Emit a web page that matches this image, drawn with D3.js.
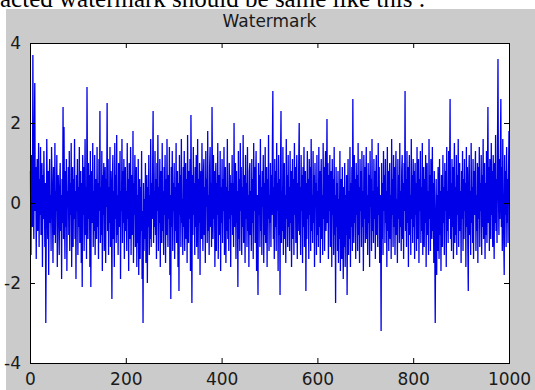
<!DOCTYPE html>
<html>
<head>
<meta charset="utf-8">
<script src="https://cdn.jsdelivr.net/npm/d3@7"></script>
<style>
  body { margin: 0; background: #fff; }
</style>
</head>
<body>
<svg id="chart" width="535" height="390"></svg>
<script>
const caption = 'acted watermark should be same like this :';
const title = 'Watermark';
const xTicks = [0, 200, 400, 600, 800, 1000];
const yTicks = [-4, -2, 0, 2, 4];
// one value per sample, x = 1..1000
const watermark = [
  0.8,-1.3,1.2,0.3,-0.6,3.7,0.5,-0.9,1.6,3.0,-0.2,0.9,-1.4,0.4,1.1,-0.7,0.2,1.5,-1.1,0.6,
  -0.3,1.4,-0.8,0.1,1.0,-1.6,0.7,-0.4,1.3,0.2,-1.1,0.5,-3.0,-0.6,1.6,0.3,-0.9,0.8,-1.8,0.4,
  1.1,-0.5,0.2,-1.2,1.4,0.6,-0.3,-1.5,0.9,0.1,-0.8,1.5,-1.0,0.3,-0.2,1.2,-1.6,0.5,0.7,-0.4,
  -1.3,0.4,1.0,-0.7,0.2,-1.9,0.6,-0.5,2.4,-0.9,1.9,-0.2,-1.4,0.8,-0.6,1.1,-1.7,0.3,-0.1,0.9,
  -0.8,1.3,-1.2,0.5,-0.3,1.5,-1.6,0.2,0.9,-1.1,0.6,-0.4,1.6,-0.9,0.3,-1.9,0.7,-0.2,1.1,-1.3,
  0.4,-0.6,1.4,-1.0,0.1,0.8,-1.5,0.5,-2.1,1.2,-0.3,0.9,-1.2,0.2,1.6,-0.8,0.4,-1.4,2.9,0.6,
  -0.9,1.0,-0.4,0.7,-1.6,1.3,-2.1,0.2,0.8,-0.5,1.5,-1.1,0.3,-0.7,1.2,-1.3,0.6,0.0,-0.9,1.4,
  -0.6,0.5,-1.4,1.1,-0.2,2.3,-1.0,0.4,-0.8,1.3,-1.7,0.7,-0.3,1.0,-1.2,0.2,0.9,-1.5,0.6,-0.1,
  2.5,-0.7,1.1,-1.3,0.4,-0.5,1.4,-1.1,0.8,-0.2,-2.4,0.6,1.2,-0.9,0.3,-1.6,1.5,-0.4,0.7,-1.0,
  1.7,-0.8,0.2,-1.3,1.0,0.5,-0.6,1.3,-1.9,0.3,-0.2,1.6,-1.0,0.8,-0.5,1.1,-1.4,0.4,0.9,-0.7,
  0.3,-1.2,1.5,-0.4,0.6,-1.7,1.0,-0.1,-0.9,1.4,-1.3,0.7,0.2,-0.8,1.8,-1.5,0.5,-0.3,1.2,-1.1,
  -0.4,0.9,-1.6,0.2,-1.0,1.1,-1.8,-0.3,0.6,-1.4,0.4,-0.7,1.3,-1.9,-0.2,-3.0,0.5,-1.2,0.1,-0.9,
  1.0,-1.5,-0.3,0.7,-2.0,0.4,-0.6,1.2,-1.3,0.2,-0.9,1.6,-1.1,0.5,-0.4,0.8,2.3,-1.0,0.3,-0.6,
  1.3,-0.8,0.6,-1.4,1.0,-0.2,1.7,-1.2,0.4,-0.5,1.1,-1.6,0.8,0.1,-1.0,1.5,-0.7,0.3,-1.3,0.9,
  -0.3,1.2,-1.5,0.6,-0.8,1.6,-0.1,-1.1,0.7,-0.4,1.4,-1.8,0.2,-2.4,0.9,-0.6,1.3,-1.2,0.5,-0.2,
  1.0,-1.4,0.4,-0.7,1.5,-1.0,0.2,0.8,-1.6,0.5,-2.2,1.2,-0.3,0.7,-1.1,1.6,-0.5,0.1,-1.3,0.9,
  -0.6,1.3,-1.2,0.4,1.0,-0.9,0.6,-1.5,1.7,-0.2,-1.0,0.8,-0.4,1.1,-1.7,2.2,0.3,-2.5,0.7,-0.8,
  1.4,-0.3,0.5,-1.3,0.9,-0.6,1.2,-1.1,0.2,1.6,-1.4,0.6,-0.5,1.0,-1.8,0.3,0.8,-0.9,1.5,-0.2,
  -1.2,0.7,1.1,-0.8,0.4,-1.5,1.3,-0.1,0.6,-1.0,1.8,-0.7,0.2,-1.3,0.9,1.4,-0.6,0.5,-1.1,2.4,
  0.6,-0.9,1.2,-0.4,0.8,-1.6,0.3,1.0,-1.2,0.5,-0.3,1.5,-1.4,0.1,0.7,-0.8,1.3,-1.7,0.4,-0.5,
  1.1,-1.0,0.6,-0.2,1.4,-1.3,0.2,0.9,-1.5,0.4,-0.7,1.6,-0.9,0.3,-1.2,1.0,-0.4,0.7,-1.6,0.5,
  -0.3,1.2,-0.8,0.5,-1.1,2.0,-0.6,0.2,1.0,-1.4,0.8,-0.5,0.3,-2.1,1.3,-0.9,0.6,-1.2,1.5,-0.2,
  0.9,-1.3,0.4,-0.6,1.7,-1.0,0.1,0.7,-1.5,1.2,-0.4,0.5,-1.1,1.4,-0.7,0.2,-1.6,0.8,1.0,-0.8,
  0.3,-1.2,1.1,-0.5,0.6,-1.4,1.5,-0.2,0.9,-1.0,0.4,1.3,-1.7,0.2,-0.6,-2.3,1.0,-0.3,0.7,-1.1,
  1.6,-0.7,0.4,-1.3,0.8,-0.1,1.2,-1.5,0.5,-0.8,1.4,-1.0,0.3,0.9,-1.6,0.6,-0.4,1.7,-1.2,0.2,
  -0.5,1.0,-1.1,0.7,-0.3,1.3,2.8,-0.9,0.4,-1.4,1.1,-0.6,0.8,-1.2,1.5,-0.2,0.5,-1.7,1.2,-0.8,
  0.6,-2.3,0.9,2.3,-1.0,0.3,-0.7,1.4,-1.3,0.5,1.0,-0.9,0.2,-1.5,1.6,-0.4,0.7,-1.1,1.2,-0.6,
  0.4,-1.2,1.3,-0.5,0.8,-1.6,0.1,1.1,-0.9,0.6,-1.3,1.5,-0.3,0.9,-1.0,0.3,1.2,-1.4,0.5,-0.7,
  1.0,2.0,-0.8,0.4,-1.3,1.2,-0.2,0.7,-1.5,0.9,-0.6,1.4,-1.1,0.3,0.8,-2.2,0.5,-0.9,1.3,-0.4,
  0.6,-1.4,1.1,-0.3,0.9,-1.2,1.6,-0.7,0.2,-1.0,1.3,-0.5,0.7,-1.6,1.0,-0.1,0.5,-1.3,1.2,-0.8,
  0.3,-1.1,1.4,-0.6,0.8,-1.5,0.4,1.1,-0.9,0.2,-1.3,1.5,-0.4,0.9,-1.2,0.6,1.3,-0.7,0.1,2.1,
  -0.5,1.0,-1.4,0.7,-0.2,1.2,-1.1,0.4,0.8,-1.6,1.1,-0.3,0.6,-1.3,1.4,-0.8,0.2,-2.5,0.9,-0.6,
  0.5,-1.2,0.8,-1.5,0.1,-0.9,1.3,-1.7,-0.2,0.6,-1.4,0.9,-0.7,-1.9,0.4,-1.1,1.0,-1.6,0.2,-0.8,
  0.7,-2.3,-0.4,1.1,-1.3,0.3,-0.9,1.4,-1.6,0.5,-0.6,0.9,-1.2,2.6,0.2,-1.0,1.2,-0.5,0.6,-1.4,
  1.0,-0.3,0.7,-1.2,1.5,-0.8,0.4,-1.5,1.1,-0.2,0.8,-1.1,1.3,-0.6,0.3,-1.7,1.2,-0.4,0.9,-1.0,
  0.5,1.4,-0.9,0.2,-1.3,1.0,-0.5,0.7,-1.6,1.3,-0.1,0.6,-1.2,1.6,-0.7,0.3,-1.0,1.1,-0.4,0.8,
  -1.4,0.6,1.2,-0.8,0.4,-1.1,1.5,-0.3,0.9,-1.5,0.2,-0.6,-3.2,1.0,-0.9,0.5,-1.3,1.3,-0.2,0.7,
  -1.0,1.1,-0.5,0.3,-1.6,1.4,-0.7,0.8,-1.2,0.5,1.0,-0.9,0.2,-1.4,1.6,-0.3,0.6,-1.1,1.2,-0.6,
  0.9,-1.3,0.4,1.3,-0.8,0.1,-1.5,1.1,-0.4,0.7,-1.0,1.5,-0.6,0.3,-1.2,0.8,1.2,-0.9,0.5,-1.4,
  1.0,-0.2,2.8,-0.7,0.6,-1.1,1.3,-0.5,0.9,-1.6,0.4,1.2,-0.8,0.2,-1.3,1.6,-0.4,0.7,-1.0,1.1,
  -0.6,0.8,-1.4,1.0,-0.3,0.5,-1.2,1.4,-0.9,0.3,1.1,-1.5,0.6,-0.2,1.3,-1.0,0.4,-0.7,1.5,-1.3,
  0.2,0.9,-1.1,0.6,-0.5,1.2,-1.6,0.4,1.0,-0.8,0.3,-1.3,1.6,-0.4,0.7,-1.2,1.1,-0.1,-0.9,1.4,
  -0.7,0.5,-1.5,0.8,-1.0,-3.0,-0.4,0.6,-1.8,0.2,-1.2,0.9,-0.6,-1.4,1.1,-0.8,0.3,-1.7,0.7,-0.3,
  -1.1,1.2,-0.5,0.4,-1.3,1.0,-0.2,0.8,-1.6,1.4,-0.7,0.3,-1.0,1.3,-0.4,0.6,2.6,-0.9,0.5,-1.2,
  1.1,-0.6,0.9,-1.4,0.2,1.5,-1.0,0.4,-0.8,1.2,-1.3,0.7,-0.3,1.6,-1.1,0.5,1.0,-0.7,0.3,-1.5,
  0.8,-0.4,1.3,-1.2,0.6,-0.9,1.1,-0.2,0.5,-1.6,1.4,-0.6,0.9,-1.1,-2.2,0.7,1.2,-0.8,0.3,-1.3,
  1.5,-0.5,0.4,-1.0,1.1,-1.4,0.8,-0.3,0.6,1.3,-1.2,0.2,-0.7,1.0,-1.5,0.9,-0.4,1.4,-1.1,0.5,
  -0.2,1.2,-1.3,0.7,-0.6,1.6,-0.9,0.3,1.0,-1.4,0.5,-0.8,1.3,-1.0,0.6,2.4,-0.5,0.9,-1.2,1.1,
  0.4,-0.9,1.5,-0.3,0.8,-1.1,1.2,0.2,-1.4,1.0,-0.5,1.7,-0.7,0.6,-1.0,1.4,3.6,0.3,-0.8,1.1,
  -0.4,1.3,2.6,-0.6,0.9,-1.2,1.6,0.1,-0.9,-1.8,1.2,-0.3,0.8,-1.1,1.4,-0.5,0.6,-1.0,0.7,1.8
];

const width = 535, height = 390;
const plot = { left: 30, right: 509, top: 43, bottom: 363 };
const tickFont = '"DejaVu Sans", Verdana, sans-serif';

const svg = d3.select('#chart');

// grey figure background
svg.append('rect')
  .attr('x', 6).attr('y', 9)
  .attr('width', width - 6).attr('height', height - 9)
  .attr('fill', '#cbcbcb');

// caption line above the figure, cut off at the top as in the screenshot
svg.append('text')
  .attr('x', 0).attr('y', 7)
  .attr('font-family', '"Liberation Serif", "Times New Roman", serif')
  .attr('font-size', 25)
  .attr('fill', '#000')
  .text(caption);

const x = d3.scaleLinear().domain([0, 1000]).range([plot.left, plot.right]);
const y = d3.scaleLinear().domain([-4, 4]).range([plot.bottom, plot.top]);

svg.append('rect')
  .attr('x', plot.left).attr('y', plot.top)
  .attr('width', plot.right - plot.left).attr('height', plot.bottom - plot.top)
  .attr('fill', '#fff');

const line = d3.line()
  .x((d, i) => x(i + 1))
  .y(d => y(d));

svg.append('path')
  .datum(watermark)
  .attr('d', line)
  .attr('fill', 'none')
  .attr('stroke', '#0000e8')
  .attr('stroke-width', 1.3);

function styleAxis(g) {
  g.select('.domain').remove();
  g.selectAll('line').attr('stroke', '#000');
  g.selectAll('text')
    .attr('font-family', tickFont)
    .attr('font-size', 17)
    .attr('fill', '#1a1a1a');
}

svg.append('g')
  .attr('transform', `translate(0,${plot.bottom})`)
  .call(d3.axisBottom(x).tickValues(xTicks).tickSizeInner(-5).tickSizeOuter(0).tickPadding(10)
    .tickFormat(d => String(d)))
  .call(styleAxis);

svg.append('g')
  .attr('transform', `translate(0,${plot.top})`)
  .call(d3.axisTop(x).tickValues(xTicks).tickSizeInner(-5).tickSizeOuter(0).tickFormat(''))
  .call(styleAxis);

svg.append('g')
  .attr('transform', `translate(${plot.left},0)`)
  .call(d3.axisLeft(y).tickValues(yTicks).tickSizeInner(-5).tickSizeOuter(0).tickPadding(9)
    .tickFormat(d => String(d)))
  .call(styleAxis);

svg.append('g')
  .attr('transform', `translate(${plot.right},0)`)
  .call(d3.axisRight(y).tickValues(yTicks).tickSizeInner(-5).tickSizeOuter(0).tickFormat(''))
  .call(styleAxis);

// axes box
svg.append('rect')
  .attr('x', plot.left + 0.5).attr('y', plot.top + 0.5)
  .attr('width', plot.right - plot.left).attr('height', plot.bottom - plot.top)
  .attr('fill', 'none')
  .attr('stroke', '#000')
  .attr('stroke-width', 1);

svg.append('text')
  .attr('x', (plot.left + plot.right) / 2)
  .attr('y', 27)
  .attr('text-anchor', 'middle')
  .attr('font-family', tickFont)
  .attr('font-size', 17)
  .attr('fill', '#1a1a1a')
  .text(title);
</script>
</body>
</html>
